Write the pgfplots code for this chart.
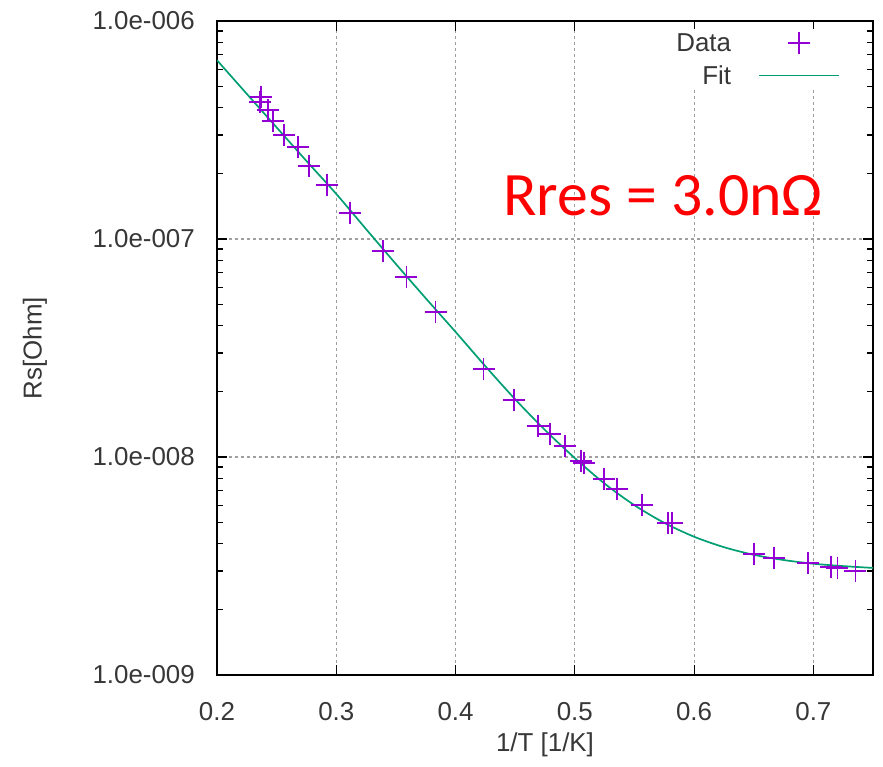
\documentclass[border=0pt]{standalone}
\usepackage{fontspec}
\setmainfont{Liberation Sans}
\newfontfamily\calibri{Carlito}
\usepackage{pgfplots}
\pgfplotsset{compat=1.18}
\definecolor{gpviolet}{RGB}{148,0,211}
\definecolor{gpgreen}{RGB}{0,158,115}
\definecolor{txtgray}{RGB}{55,55,55}
\pgfplotsset{
  marklegend/.style={legend image code/.code={\draw[mark repeat=2,mark phase=2,##1] plot coordinates {(0bp,0bp) (40bp,0bp) (80bp,0bp)};}},
  linelegend/.style={legend image code/.code={\draw[##1] (0bp,0bp) -- (80bp,0bp);}},
}
\begin{document}
\begin{tikzpicture}
\path[use as bounding box] (0,0) rectangle (883bp,767bp);
\begin{axis}[
  at={(217bp,92bp)}, anchor=south west,
  scale only axis, width=656bp, height=654bp,
  ymode=log, xmin=0.2, xmax=0.75, ymin=1e-9, ymax=1e-6,
  xtick={0.2,0.3,0.4,0.5,0.6,0.7},
  xticklabels={0.2,0.3,0.4,0.5,0.6,0.7},
  ytick={1e-9,1e-8,1e-7,1e-6},
  yticklabels={1.0e-009,1.0e-008,1.0e-007,1.0e-006},
  minor ytick={2e-9,3e-9,4e-9,5e-9,6e-9,7e-9,8e-9,9e-9,2e-8,3e-8,4e-8,5e-8,6e-8,7e-8,8e-8,9e-8,2e-7,3e-7,4e-7,5e-7,6e-7,7e-7,8e-7,9e-7},
  /pgf/number format/assume math mode=true,
  tick align=inside,
  major tick length=10bp, minor tick length=6bp,
  tick style={black, line width=1.1bp},
  axis line style={black, line width=1.4bp},
  grid=major,
  major grid style={gray!75, dash pattern=on 3bp off 3bp, line width=1.1bp},
  ticklabel style={font=\fontsize{26}{31}\selectfont, text=txtgray},
  xticklabel style={anchor=center, yshift=-37bp},
  yticklabel style={anchor=east, inner sep=0pt, xshift=-22bp},
  xlabel={1/T [1/K]},
  ylabel={Rs[Ohm]},
  label style={font=\fontsize{26}{31}\selectfont, text=txtgray},
  xlabel style={at={(axis description cs:0.5,0)}, anchor=center, yshift=-70bp},
  ylabel style={at={(axis description cs:0,0.5)}, anchor=center, yshift=182bp},
  legend style={draw=none, fill=white, at={(axis description cs:1,1)}, anchor=north east,
    xshift=-31bp, yshift=-8bp, font=\fontsize{26}{31}\selectfont, text=txtgray,
    legend cell align=right, inner sep=2bp, row sep=9bp, column sep=25bp},
  legend plot pos=right,
]
\addplot[only marks, mark=+, mark size=11bp, gpviolet, line width=1.8bp, marklegend]
coordinates {
(0.2361,4.25e-7) (0.2370,4.48e-7) (0.2429,3.91e-7) (0.2471,3.48e-7) (0.2563,3.00e-7)
(0.2681,2.64e-7) (0.2773,2.16e-7) (0.2924,1.77e-7) (0.3118,1.32e-7) (0.3395,8.81e-8)
(0.3588,6.70e-8) (0.3832,4.63e-8) (0.4235,2.53e-8) (0.4487,1.82e-8) (0.4689,1.39e-8)
(0.4790,1.28e-8) (0.4916,1.12e-8) (0.5050,9.59e-9) (0.5076,9.38e-9) (0.5244,7.92e-9)
(0.5353,7.13e-9) (0.5563,6.03e-9) (0.5782,4.98e-9) (0.5815,4.98e-9) (0.6504,3.59e-9)
(0.6672,3.44e-9) (0.6958,3.27e-9) (0.7151,3.13e-9) (0.7202,3.10e-9) (0.7353,3.00e-9)
};
\addlegendentry{Data}
\addplot[gpgreen, line width=1.7bp, smooth, no marks, linelegend]
coordinates {
(0.200,6.61e-7) (0.225,4.63e-7) (0.250,3.25e-7) (0.275,2.28e-7) (0.300,1.61e-7)
(0.325,1.11e-7) (0.350,7.68e-8) (0.375,5.35e-8) (0.400,3.75e-8) (0.425,2.61e-8)
(0.450,1.84e-8) (0.475,1.33e-8) (0.500,9.89e-9) (0.525,7.55e-9) (0.550,6.01e-9)
(0.575,4.99e-9) (0.600,4.31e-9) (0.625,3.86e-9) (0.650,3.56e-9) (0.675,3.37e-9)
(0.700,3.24e-9) (0.725,3.16e-9) (0.750,3.10e-9)
};
\addlegendentry{Fit}
\node[anchor=base, text=red, font=\calibri\fontsize{62}{70}\selectfont, inner sep=0pt]
  at (rel axis cs:0.68,0.703) {Rres = 3.0nΩ};
\end{axis}
\end{tikzpicture}
\end{document}
